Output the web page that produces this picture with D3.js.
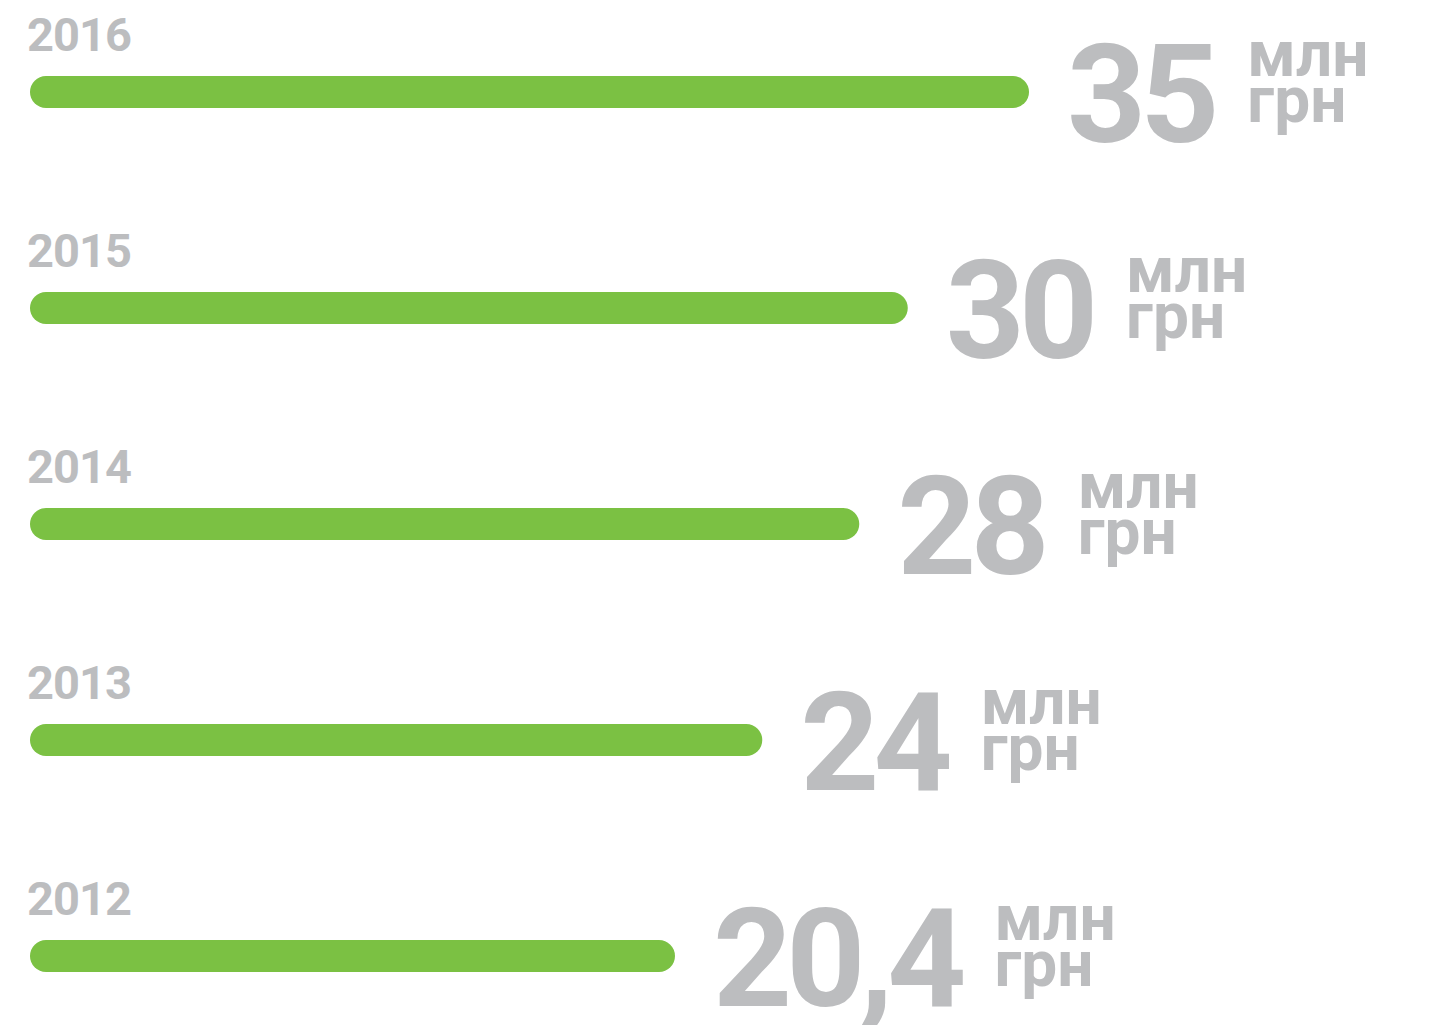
<!DOCTYPE html>
<html>
<head>
<meta charset="utf-8">
<script src="https://cdn.jsdelivr.net/npm/d3@7"></script>
<style>
  html, body { margin: 0; padding: 0; background: #ffffff; }
  svg { display: block; }
</style>
</head>
<body>
<svg id="chart" width="1439" height="1025"></svg>
<script>
// ---- data ----
const years = ["2016", "2015", "2014", "2013", "2012"];
const values = [35, 30, 28, 24, 20.4];
const valueLabels = ["35", "30", "28", "24", "20,4"];
const unitTop = "млн";
const unitBottom = "грн";

// ---- style ----
const green = "#7bc143";
const grey = "#bcbdbf";
const fontFamily = "Roboto, 'Open Sans', sans-serif";

const svg = d3.select("#chart");

const rows = years.map((y, i) => ({ year: y, value: values[i], label: valueLabels[i] }));

const x = d3.scaleLinear().domain([-6.2, 35]).range([30, 1029]);
const y = d3.scalePoint().domain(years).range([92, 956]);
const barH = 32;

const g = svg.selectAll("g.row").data(rows).join("g")
  .attr("class", "row")
  .attr("transform", d => `translate(0,${y(d.year)})`);

// bars
g.append("rect")
  .attr("x", x.range()[0])
  .attr("y", -barH / 2)
  .attr("width", d => x(d.value) - x.range()[0])
  .attr("height", barH)
  .attr("rx", barH / 2)
  .attr("ry", barH / 2)
  .attr("fill", green);

// year labels
g.append("text")
  .attr("x", 27)
  .attr("y", -41)
  .attr("font-family", fontFamily)
  .attr("font-weight", 700)
  .attr("font-size", 47)
  .attr("letter-spacing", -1)
  .attr("fill", grey)
  .text(d => d.year);

// value labels
g.append("text")
  .attr("class", "val")
  .attr("x", d => x(d.value) + 38)
  .attr("y", 50)
  .attr("font-family", fontFamily)
  .attr("font-weight", 700)
  .attr("font-size", 138)
  .attr("letter-spacing", -6)
  .attr("fill", grey)
  .text(d => d.label);

// unit labels
g.each(function (d) {
  const row = d3.select(this);
  const t = row.select("text.val");
  const w = t.node().getComputedTextLength();
  const ux = x(d.value) + 38 + w + 34;
  const u = row.append("text")
    .attr("x", ux)
    .attr("font-family", fontFamily)
    .attr("font-weight", 700)
    .attr("font-size", 64)
    .attr("fill", grey);
  u.append("tspan").attr("x", ux).attr("y", -16).text(unitTop);
  u.append("tspan").attr("x", ux).attr("y", 30).text(unitBottom);
});
</script>
</body>
</html>
